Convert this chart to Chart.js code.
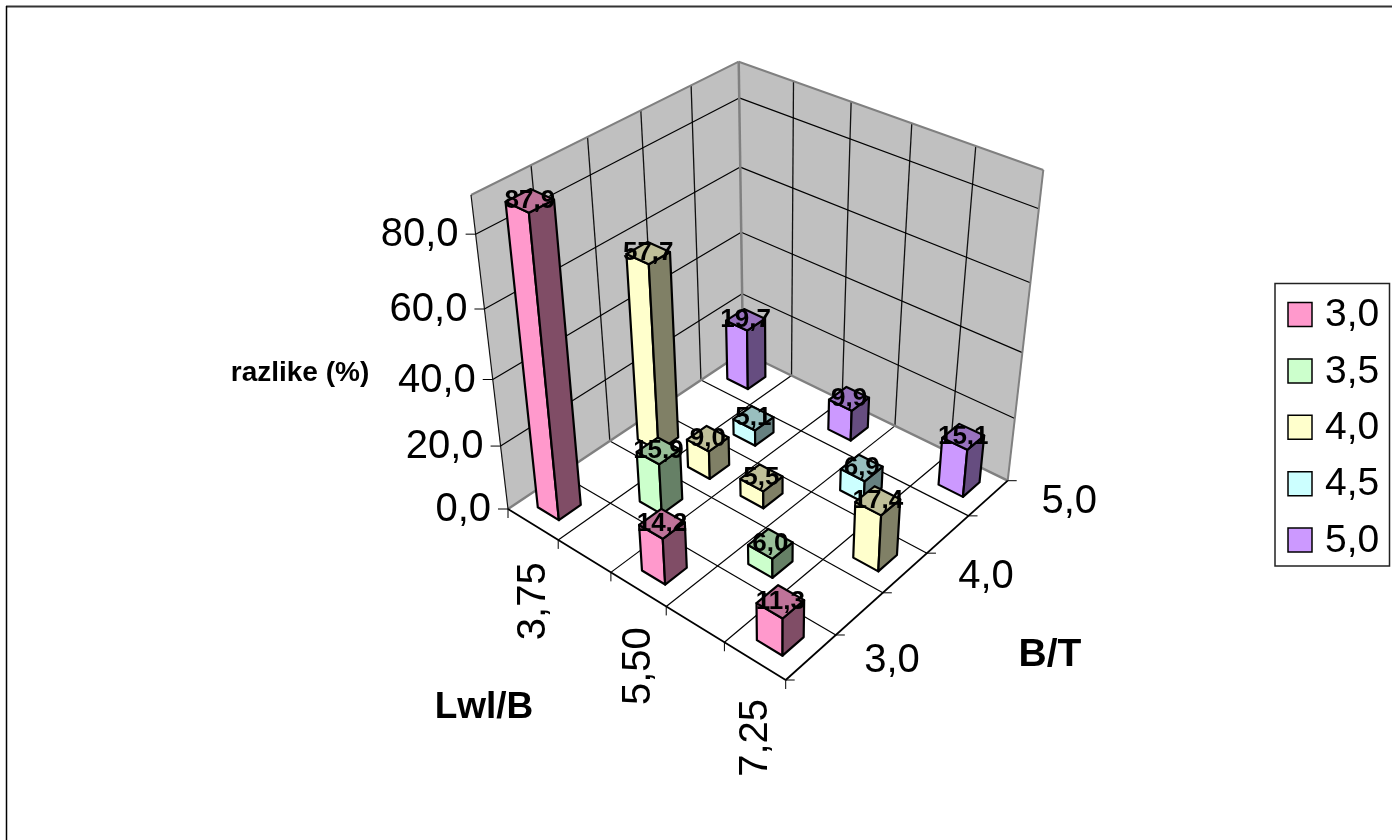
<!DOCTYPE html>
<html>
<head>
<meta charset="utf-8">
<style>
    html, body { margin: 0; padding: 0; background: #fff; }
    canvas { display: block; }
</style>
<script src="https://cdn.jsdelivr.net/npm/chart.js@4/dist/chart.umd.js"></script>
</head>
<body>
<canvas id="chart" width="1392" height="840"></canvas>
<script>
const lwlLabels = ['3,75', '4,63', '5,50', '6,38', '7,25'];
const btLabels = ['3,0', '3,5', '4,0', '4,5', '5,0'];
const yTicks = { min: 0, max: 90, step: 20 };

const bt30 = [87.9, null, 14.2, null, 11.3];
const bt35 = [null, 15.9, null, 6.0, null];
const bt40 = [57.7, 9.0, 5.5, null, 17.4];
const bt45 = [null, 5.1, null, 6.9, null];
const bt50 = [19.7, null, 9.9, null, 15.1];

const seriesValues = [bt30, bt35, bt40, bt45, bt50];
const seriesFront = ['#ff99cc', '#ccffcc', '#ffffcc', '#ccffff', '#cc99ff'];
const seriesSide = ['#804d66', '#668066', '#808066', '#668080', '#664d80'];
const seriesTop = ['#bf7399', '#99bf99', '#bfbf99', '#99bfbf', '#9973bf'];

const FONT = '"Liberation Sans", Arial, sans-serif';
const BAR_SHARE = 0.42;

// corners of the box on screen: (u,v) = (0,0) (1,0) (1,1) (0,1)
const floorQuad = [[508, 509], [785.7, 680], [1007.7, 480.7], [743, 352]];
const roofQuad = [[471, 195], [787, 345], [1043.3, 170], [738.7, 61.7]];
const HEIGHT_PERSPECTIVE = 1.14;

function makeHomography(q) {
    const [[x0, y0], [x1, y1], [x2, y2], [x3, y3]] = q;
    const dx1 = x1 - x2, dx2 = x3 - x2, sx = x0 - x1 + x2 - x3;
    const dy1 = y1 - y2, dy2 = y3 - y2, sy = y0 - y1 + y2 - y3;
    const den = dx1 * dy2 - dx2 * dy1;
    const g = (sx * dy2 - dx2 * sy) / den;
    const h = (dx1 * sy - sx * dy1) / den;
    const a = x1 - x0 + g * x1, b = x3 - x0 + h * x3;
    const d = y1 - y0 + g * y1, e = y3 - y0 + h * y3;
    return (u, v) => {
        const k = g * u + h * v + 1;
        return [(a * u + b * v + x0) / k, (d * u + e * v + y0) / k];
    };
}

const floorMap = makeHomography(floorQuad);
const roofMap = makeHomography(roofQuad);

function project(u, v, w) {
    const f = floorMap(u, v);
    const r = roofMap(u, v);
    const t = w / (w + HEIGHT_PERSPECTIVE * (1 - w));
    return [f[0] + (r[0] - f[0]) * t, f[1] + (r[1] - f[1]) * t];
}

function polygon(ctx, pts, fill, stroke, width) {
    ctx.beginPath();
    pts.forEach((p, i) => (i ? ctx.lineTo(p[0], p[1]) : ctx.moveTo(p[0], p[1])));
    ctx.closePath();
    if (fill) {
        ctx.fillStyle = fill;
        ctx.fill();
    }
    if (stroke) {
        ctx.strokeStyle = stroke;
        ctx.lineWidth = width;
        ctx.stroke();
    }
}

function line(ctx, a, b, color, width) {
    ctx.beginPath();
    ctx.moveTo(a[0], a[1]);
    ctx.lineTo(b[0], b[1]);
    ctx.strokeStyle = color;
    ctx.lineWidth = width;
    ctx.stroke();
}

function text(ctx, str, x, y, font, align) {
    ctx.font = font;
    ctx.textAlign = align || 'center';
    ctx.textBaseline = 'middle';
    ctx.fillStyle = '#000';
    ctx.fillText(str, x, y);
}

// decimals along the three axes
const xDec = (chart, i) => chart.scales.x.getDecimalForPixel(chart.scales.x.getPixelForValue(i));
const zDec = (chart, i) => chart.scales.z.getDecimalForPixel(chart.scales.z.getPixelForValue(i));
const yDec = (chart, val) => chart.scales.y.getDecimalForPixel(chart.scales.y.getPixelForValue(val));

const fmt = (val) => val.toFixed(1).replace('.', ',');

class Bar3DController extends Chart.BarController {
    static id = 'bar3d';
    static defaults = {};

    draw() {
        const chart = this.chart;
        const ctx = chart.ctx;
        const ds = this.getDataset();
        const idx = this.index;
        const half = BAR_SHARE / lwlLabels.length / 2;
        const halfZ = BAR_SHARE / btLabels.length / 2;
        ctx.save();
        ctx.lineJoin = 'round';
        ds.data.forEach((val, i) => {
            if (val === null) return;
            const u = xDec(chart, i), v = zDec(chart, idx), w = yDec(chart, val);
            const u0 = u - half, u1 = u + half, v0 = v - halfZ, v1 = v + halfZ;
            polygon(ctx, [project(u0, v0, 0), project(u1, v0, 0), project(u1, v0, w), project(u0, v0, w)],
                ds.backgroundColor, '#000', 2.2);
            polygon(ctx, [project(u1, v0, 0), project(u1, v1, 0), project(u1, v1, w), project(u1, v0, w)],
                ds.sideColor, '#000', 2.2);
            polygon(ctx, [project(u0, v0, w), project(u1, v0, w), project(u1, v1, w), project(u0, v1, w)],
                ds.topColor, '#000', 2.2);
        });
        ctx.restore();
    }
}
Chart.register(Bar3DController);

const boxPlugin = {
    id: 'box3d',
    beforeDatasetsDraw(chart) {
        const ctx = chart.ctx;
        const yScale = chart.scales.y;
        ctx.save();
        ctx.lineCap = 'butt';
        // frame of the chart object
        line(ctx, [6, 6.5], [1392, 6.5], '#333', 2);
        line(ctx, [6.5, 6], [6.5, 840], '#000', 1.5);

        // walls and floor
        polygon(ctx, [project(0, 0, 0), project(0, 1, 0), project(0, 1, 1), project(0, 0, 1)], '#c0c0c0');
        polygon(ctx, [project(0, 1, 0), project(1, 1, 0), project(1, 1, 1), project(0, 1, 1)], '#c0c0c0');
        polygon(ctx, [project(0, 0, 0), project(1, 0, 0), project(1, 1, 0), project(0, 1, 0)], '#ffffff');

        const nu = lwlLabels.length, nv = btLabels.length;
        for (let i = 1; i < nu; i++) {
            line(ctx, project(i / nu, 0, 0), project(i / nu, 1, 0), '#000', 1.2);
            line(ctx, project(i / nu, 1, 0), project(i / nu, 1, 1), '#111', 1.3);
        }
        for (let i = 1; i < nv; i++) {
            line(ctx, project(0, i / nv, 0), project(1, i / nv, 0), '#000', 1.2);
            line(ctx, project(0, i / nv, 0), project(0, i / nv, 1), '#111', 1.3);
        }
        yScale.ticks.forEach((t) => {
            if (t.value === 0) return;
            const w = yDec(chart, t.value);
            line(ctx, project(0, 0, w), project(0, 1, w), '#000', 1.2);
            line(ctx, project(0, 1, w), project(1, 1, w), '#000', 1.2);
        });

        // wall outlines
        const grey = '#808080';
        line(ctx, project(0, 0, 1), project(0, 1, 1), grey, 2);
        line(ctx, project(0, 1, 1), project(1, 1, 1), grey, 2);
        line(ctx, project(1, 1, 1), project(1, 1, 0), grey, 2);
        line(ctx, project(0, 1, 0), project(0, 1, 1), grey, 2.5);
        line(ctx, project(0, 0, 0), project(0, 1, 0), grey, 2.5);
        line(ctx, project(0, 1, 0), project(1, 1, 0), grey, 2.5);

        // axis lines
        line(ctx, project(0, 0, 0), project(0, 0, 1), '#111', 1.2);
        line(ctx, project(0, 0, 0), project(1, 0, 0), '#000', 1.8);
        line(ctx, project(1, 0, 0), project(1, 1, 0), '#000', 1.8);

        // tick marks
        for (let i = 0; i <= nu; i++) {
            const p = project(i / nu, 0, 0);
            line(ctx, p, [p[0], p[1] + 9], '#000', 1);
        }
        for (let i = 0; i <= nv; i++) {
            const p = project(1, i / nv, 0);
            line(ctx, p, [p[0] + 9, p[1]], '#000', 1);
        }
        yScale.ticks.forEach((t) => {
            const p = project(0, 0, yDec(chart, t.value));
            line(ctx, p, [p[0] - 10, p[1]], '#000', 1);
        });
        ctx.restore();
    },
    afterDatasetsDraw(chart) {
        const ctx = chart.ctx;
        const tickFont = '40px ' + FONT;
        ctx.save();

        // value labels on top of the bars
        chart.data.datasets.forEach((ds, d) => {
            ds.data.forEach((val, i) => {
                if (val === null) return;
                const p = project(xDec(chart, i), zDec(chart, d), yDec(chart, val));
                text(ctx, fmt(val), p[0], p[1], 'bold 26px ' + FONT);
            });
        });

        // value axis
        chart.scales.y.ticks.forEach((t) => {
            const p = project(0, 0, yDec(chart, t.value));
            text(ctx, fmt(t.value), p[0] - 17, p[1] + 1, tickFont, 'right');
        });

        // category axis, every second label, rotated
        lwlLabels.forEach((label, i) => {
            if (i % 2) return;
            const p = project(xDec(chart, i), 0, 0);
            ctx.save();
            ctx.translate(p[0] + 1, p[1] + 38);
            ctx.rotate(-Math.PI / 2);
            text(ctx, label, 0, 0, tickFont, 'right');
            ctx.restore();
        });

        // series axis, every second label
        btLabels.forEach((label, i) => {
            if (i % 2) return;
            const p = project(1, zDec(chart, i), 0);
            text(ctx, label, p[0] + 53, p[1] + 4, tickFont, 'left');
        });

        // axis titles
        text(ctx, 'razlike (%)', 300, 373, 'bold 28px ' + FONT);
        text(ctx, 'Lwl/B', 484, 708, 'bold 37px ' + FONT);
        text(ctx, 'B/T', 1050, 655, 'bold 39px ' + FONT);

        // legend
        polygon(ctx, [[1275, 283.5], [1389.5, 283.5], [1389.5, 566], [1275, 566]], '#fff', '#222', 1.5);
        chart.data.datasets.forEach((ds, d) => {
            const y = 314.5 + d * 56.4;
            polygon(ctx, [[1288, y - 12], [1312, y - 12], [1312, y + 12], [1288, y + 12]], ds.backgroundColor, '#000', 1.5);
            text(ctx, ds.label, 1325, y + 1, '39px ' + FONT, 'left');
        });
        ctx.restore();
    }
};

new Chart(document.getElementById('chart'), {
    type: 'bar3d',
    data: {
        labels: lwlLabels,
        datasets: seriesValues.map((vals, d) => ({
            label: btLabels[d],
            data: vals,
            backgroundColor: seriesFront[d],
            sideColor: seriesSide[d],
            topColor: seriesTop[d]
        }))
    },
    options: {
        responsive: false,
        animation: false,
        events: [],
        layout: { padding: 0 },
        plugins: { legend: { display: false }, tooltip: { enabled: false } },
        scales: {
            x: { type: 'category', display: false, offset: true },
            z: { type: 'category', axis: 'x', labels: btLabels, display: false, offset: true },
            y: {
                type: 'linear',
                display: false,
                min: yTicks.min,
                max: yTicks.max,
                ticks: { stepSize: yTicks.step, includeBounds: false }
            }
        }
    },
    plugins: [boxPlugin]
});
</script>
</body>
</html>
